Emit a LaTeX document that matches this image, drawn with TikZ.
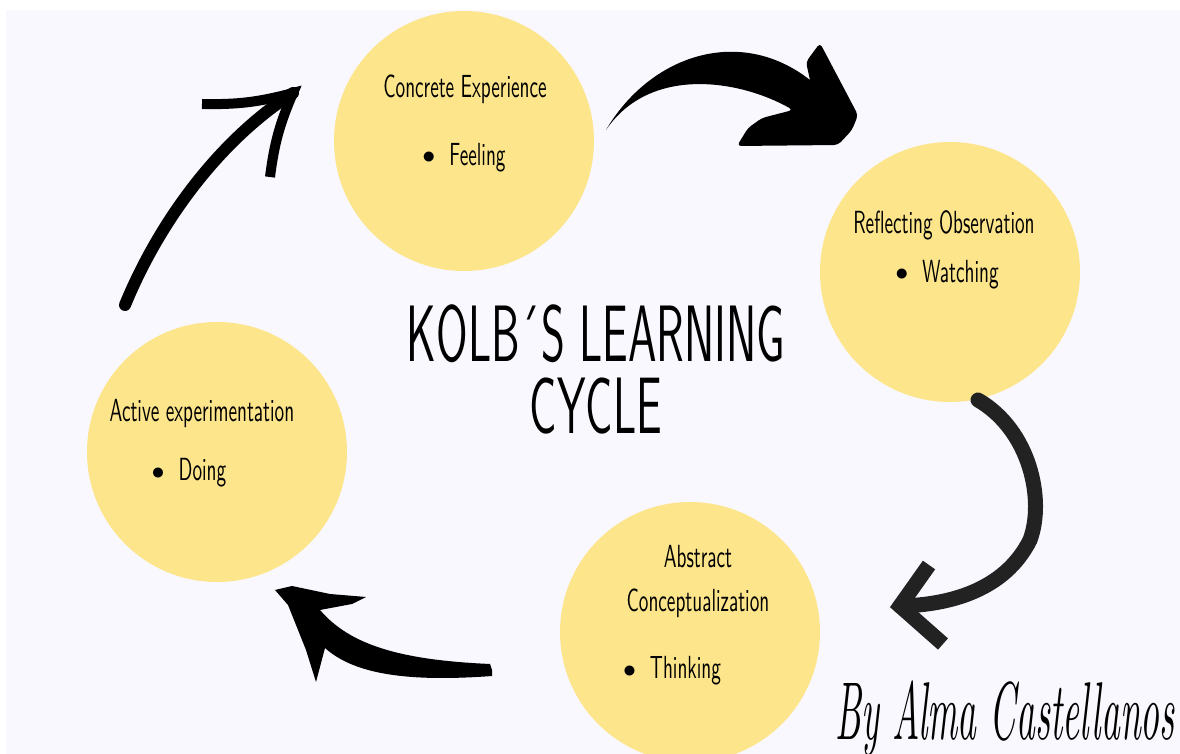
\documentclass[tikz,border=0pt]{standalone}
\usepackage{fontspec}
\newfontfamily\kolbfont{lmsans10-regular.otf}[FakeStretch=0.6]
\newfontfamily\kolbtitle{lmsans17-regular.otf}[FakeStretch=0.57]
\newfontfamily\kolbsign{lmroman10-italic.otf}[FakeStretch=0.45]
\definecolor{panel}{RGB}{249,248,254}
\definecolor{sun}{RGB}{253,229,140}
\definecolor{ink}{RGB}{34,34,34}
\newcommand{\kolbdot}{\raisebox{1pt}{\scalebox{0.75}{$\bullet$}}\hspace{7pt}}
\tikzset{%
  % Specifications for style of nodes:
            blob/.style = {circle, fill=sun, minimum size=130pt, inner sep=0pt},
            base/.style = {anchor=base, inner sep=0pt, text=black,
                           font=\kolbfont\fontsize{16}{19}\selectfont},
           title/.style = {inner sep=0pt, text=black, align=center,
                           font=\kolbtitle\fontsize{40}{36}\selectfont},
            sign/.style = {base, font=\kolbsign\fontsize{41}{41}\selectfont},
  % Specifications for style of the brush arrows:
           brush/.style = {draw=black, line width=6pt, line cap=round},
          brush3/.style = {draw=ink, line width=7.5pt, line cap=round},
}

\begin{document}
\begin{tikzpicture}[x=0.5pt, y=-0.5pt]

  \useasboundingbox (0,0) rectangle (1180,754);
  \clip (0,0) rectangle (1180,754);
  \fill[white] (0,0) rectangle (1180,754);
  \fill[panel] (6,10) rectangle (1180,754);

  % Specification of nodes (position, etc.)
  \node (onConcrete) [blob] at (464,141) {};
  \node (onReflect)  [blob] at (950,272) {};
  \node (onAbstract) [blob] at (690,632) {};
  \node (onActive)   [blob] at (217,452) {};

  \node (onConcreteT) [base] at (465,98)  {Concrete Experience};
  \node (onConcreteB) [base] at (464,166) {\kolbdot Feeling};
  \node (onReflectT)  [base] at (944,234) {Reflecting Observation};
  \node (onReflectB)  [base] at (947,283) {\kolbdot Watching};
  \node (onAbstractT) [base] at (698,568) {Abstract};
  \node (onAbstractM) [base] at (698,611) {Conceptualization};
  \node (onAbstractB) [base] at (672,679) {\kolbdot Thinking};
  \node (onActiveT)   [base] at (202,422) {Active experimentation};
  \node (onActiveB)   [base] at (189,481) {\kolbdot Doing};

  \node (onTitle)  [title] at (596,369) {KOLB´S LEARNING\\CYCLE};
  \node (onAuthor) [sign]  at (1005,740) {By Alma Castellanos};

  % Specification of arrows between the nodes specified above
  \coordinate (a1s) at (125,305);
  \coordinate (a1t) at (293,93);
  \coordinate (a1u) at (202,104);
  \coordinate (a1d) at (270,177);
  \draw[brush] (a1s) .. controls (160,220) and (220,140) .. (a1t);
  \draw[brush, line width=5pt, line cap=butt, line join=miter]
       (a1u) to[bend right=8] (a1t) to[bend right=8] (a1d);

  \coordinate (a2s) at (606,130);
  \coordinate (a2t) at (858,115);
  \fill[black] (a2s) .. controls (650,55) and (740,25) .. (810,80)
       [rounded corners=2pt] -- (806,62) -- (820,43) -- (a2t) -- (852,130)
       -- (838,145) -- (737,146) -- (748,128) -- (762,118) -- (793,110)
       [sharp corners] .. controls (740,80) and (650,65) .. (a2s) -- cycle;

  \coordinate (a3s) at (978,400);
  \coordinate (a3t) at (900,606);
  \coordinate (a3u) at (929,565);
  \coordinate (a3d) at (943,644);
  \draw[brush3] (a3s) .. controls (1030,430) and (1045,500) .. (1030,540)
       .. controls (1005,590) and (950,605) .. (a3t);
  \draw[brush3, line cap=butt, line join=miter] (a3u) -- (a3t) -- (a3d);

  \coordinate (a4s) at (492,670);
  \coordinate (a4t) at (275,590);
  \fill[black] (a4t) -- (292,586) -- (330,594) -- (366,597) -- (352,604)
       -- (320,610) .. controls (350,645) and (400,660) .. (490,664)
       -- (a4s) -- (492,676) .. controls (410,682) and (355,675) .. (325,648)
       -- (316,682) -- (306,650) -- (288,605) -- cycle;

\end{tikzpicture}
\end{document}
